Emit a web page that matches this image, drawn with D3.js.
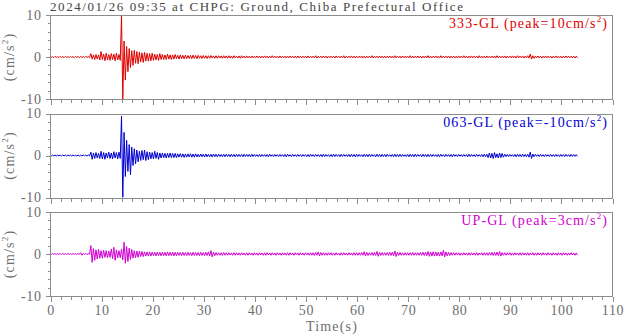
<!DOCTYPE html>
<html><head><meta charset="utf-8">
<script src="https://cdn.jsdelivr.net/npm/d3@7"></script>
<style>
body{margin:0;background:#fff;}
text{font-family:"Liberation Serif","Times New Roman",serif;}
</style></head>
<body><svg id="c" width="624" height="334"></svg>
<script>
const title = "2024/01/26 09:35 at CHPG: Ground, Chiba Prefectural Office";
const channels = ["333-GL", "063-GL", "UP-GL"];
const peaks = ["10", "-10", "3"];
const colors = ["#e00000", "#0000d0", "#d000d0"];
const xTicks = [0,10,20,30,40,50,60,70,80,90,100,110];
const yTicks = [-10, 0, 10];

const redHi = [
0.15,0.1,0.15,0.1,0.15,0.1,0.15,0.1,0.15,0.1,
0.15,0.1,0.15,0.1,0.15,0.1,0.8,0.5,0.6,0.5,
1.3,0.7,0.9,0.6,0.8,0.7,0.9,0.6,10,3.8,
2.5,2.0,1.5,1.6,1.3,1.2,1.0,1.1,0.9,0.8,
0.9,0.7,0.6,0.8,0.6,0.5,0.7,0.5,0.5,0.6,
0.4,0.5,0.4,0.45,0.35,0.4,0.45,0.35,0.4,0.3,
0.35,0.3,0.3,0.35,0.25,0.3,0.3,0.25,0.3,0.25,
0.3,0.25,0.3,0.2,0.25,0.3,0.2,0.25,0.2,0.25,
0.2,0.25,0.2,0.2,0.25,0.2,0.2,0.3,0.2,0.2,
0.25,0.2,0.2,0.2,0.25,0.2,0.2,0.25,0.2,0.2,
0.2,0.25,0.2,0.2,0.3,0.2,0.2,0.25,0.2,0.2,
0.2,0.2,0.25,0.2,0.2,0.3,0.2,0.2,0.25,0.2,
0.2,0.2,0.25,0.2,0.2,0.2,0.3,0.2,0.2,0.25,
0.2,0.2,0.2,0.25,0.2,0.3,0.2,0.2,0.25,0.2,
0.2,0.3,0.2,0.2,0.25,0.2,0.2,0.25,0.3,0.2,
0.2,0.25,0.2,0.3,0.2,0.2,0.25,0.2,0.2,0.2,
0.25,0.2,0.3,0.2,0.2,0.25,0.2,0.2,0.3,0.2,
0.2,0.25,0.2,0.2,0.25,0.3,0.2,0.2,0.25,0.2,
0.2,0.25,0.2,0.3,0.2,0.25,0.2,0.3,0.7,0.3,
0.2,0.25,0.2,0.2,0.25,0.2,0.2,0.2,0.25,0.2,
0.2,0.2,0.25,0.2,0.2,0.2,0.2];
const redLo = [
-0.1,-0.15,-0.1,-0.15,-0.1,-0.15,-0.1,-0.15,-0.1,-0.15,
-0.1,-0.15,-0.1,-0.15,-0.1,-0.15,-0.5,-0.6,-0.5,-0.7,
-0.6,-0.9,-0.7,-0.8,-0.6,-0.9,-0.7,-0.8,-10,-5.5,
-3.5,-2.5,-2.0,-1.5,-1.6,-1.2,-1.3,-1.0,-1.0,-0.9,
-0.8,-0.7,-0.8,-0.6,-0.6,-0.6,-0.5,-0.6,-0.5,-0.4,
-0.5,-0.4,-0.45,-0.4,-0.35,-0.4,-0.35,-0.4,-0.3,-0.35,
-0.3,-0.35,-0.3,-0.25,-0.3,-0.3,-0.25,-0.3,-0.25,-0.3,
-0.25,-0.3,-0.2,-0.25,-0.3,-0.2,-0.25,-0.2,-0.25,-0.2,
-0.2,-0.2,-0.25,-0.2,-0.2,-0.25,-0.2,-0.2,-0.2,-0.25,
-0.2,-0.2,-0.25,-0.2,-0.2,-0.2,-0.25,-0.2,-0.2,-0.2,
-0.25,-0.2,-0.2,-0.2,-0.25,-0.2,-0.2,-0.2,-0.25,-0.2,
-0.2,-0.25,-0.2,-0.2,-0.2,-0.25,-0.2,-0.2,-0.2,-0.25,
-0.2,-0.2,-0.2,-0.25,-0.2,-0.2,-0.25,-0.2,-0.2,-0.2,
-0.25,-0.2,-0.2,-0.2,-0.25,-0.2,-0.2,-0.25,-0.2,-0.2,
-0.2,-0.25,-0.2,-0.2,-0.2,-0.25,-0.2,-0.2,-0.25,-0.2,
-0.2,-0.2,-0.25,-0.2,-0.2,-0.2,-0.25,-0.2,-0.2,-0.25,
-0.2,-0.2,-0.2,-0.25,-0.2,-0.2,-0.2,-0.25,-0.2,-0.2,
-0.25,-0.2,-0.2,-0.2,-0.25,-0.2,-0.2,-0.2,-0.25,-0.2,
-0.2,-0.2,-0.25,-0.2,-0.2,-0.25,-0.2,-0.25,-0.5,-0.3,
-0.2,-0.2,-0.25,-0.2,-0.2,-0.2,-0.25,-0.2,-0.2,-0.2,
-0.25,-0.2,-0.2,-0.2,-0.2,-0.25,-0.2];

const blueHi = [
0.1,0.12,0.1,0.12,0.1,0.12,0.1,0.12,0.1,0.12,
0.1,0.12,0.1,0.12,0.1,0.12,0.8,0.6,0.7,0.5,
1.0,0.7,0.6,0.8,0.6,0.9,0.7,0.8,9.4,5.5,
3.6,2.6,2.0,1.6,1.3,1.0,1.2,1.3,0.9,0.8,
0.7,1.0,0.7,0.6,0.6,0.5,0.5,0.6,0.5,0.5,
0.4,0.45,0.4,0.35,0.4,0.4,0.35,0.4,0.3,0.35,
0.3,0.35,0.3,0.3,0.35,0.3,0.3,0.25,0.3,0.3,
0.25,0.3,0.25,0.3,0.25,0.25,0.3,0.25,0.25,0.3,
0.25,0.2,0.25,0.25,0.2,0.25,0.3,0.2,0.25,0.2,
0.25,0.2,0.25,0.3,0.2,0.25,0.2,0.25,0.2,0.25,
0.2,0.25,0.3,0.2,0.25,0.2,0.25,0.3,0.25,0.2,
0.25,0.3,0.25,0.2,0.3,0.25,0.2,0.25,0.3,0.25,
0.3,0.25,0.2,0.3,0.25,0.3,0.25,0.2,0.3,0.25,
0.3,0.25,0.3,0.2,0.25,0.3,0.25,0.3,0.25,0.2,
0.25,0.3,0.25,0.3,0.25,0.2,0.3,0.25,0.3,0.25,
0.25,0.2,0.25,0.3,0.2,0.25,0.2,0.25,0.3,0.2,
0.25,0.2,0.25,0.2,0.3,0.25,0.2,0.25,0.2,0.25,
0.3,0.3,0.6,0.5,0.7,0.4,0.6,0.5,0.3,0.25,
0.25,0.2,0.25,0.3,0.25,0.3,0.25,0.3,0.8,0.35,
0.25,0.2,0.25,0.2,0.25,0.2,0.25,0.2,0.25,0.2,
0.25,0.2,0.25,0.2,0.25,0.2,0.2];
const blueLo = [
-0.12,-0.1,-0.12,-0.1,-0.12,-0.1,-0.12,-0.1,-0.12,-0.1,
-0.12,-0.1,-0.12,-0.1,-0.12,-0.1,-0.9,-0.7,-0.6,-0.7,
-0.8,-0.9,-0.6,-0.7,-0.8,-0.6,-0.8,-0.7,-10,-5.0,
-3.8,-4.6,-2.4,-2.0,-1.5,-1.2,-1.0,-1.2,-1.0,-0.8,
-0.8,-0.7,-0.9,-0.6,-0.5,-0.6,-0.5,-0.5,-0.5,-0.5,
-0.4,-0.4,-0.45,-0.4,-0.35,-0.4,-0.4,-0.35,-0.35,-0.3,
-0.35,-0.3,-0.3,-0.35,-0.3,-0.3,-0.25,-0.3,-0.3,-0.25,
-0.3,-0.25,-0.3,-0.25,-0.25,-0.3,-0.25,-0.25,-0.3,-0.25,
-0.2,-0.25,-0.25,-0.2,-0.25,-0.3,-0.2,-0.25,-0.2,-0.25,
-0.2,-0.25,-0.3,-0.2,-0.25,-0.2,-0.25,-0.2,-0.25,-0.2,
-0.25,-0.3,-0.2,-0.25,-0.2,-0.25,-0.3,-0.25,-0.2,-0.25,
-0.3,-0.25,-0.2,-0.3,-0.25,-0.2,-0.25,-0.3,-0.25,-0.3,
-0.25,-0.2,-0.3,-0.25,-0.3,-0.25,-0.2,-0.3,-0.25,-0.3,
-0.25,-0.3,-0.2,-0.25,-0.3,-0.25,-0.3,-0.25,-0.2,-0.25,
-0.3,-0.25,-0.3,-0.25,-0.2,-0.3,-0.25,-0.3,-0.25,-0.25,
-0.2,-0.25,-0.3,-0.2,-0.25,-0.2,-0.25,-0.3,-0.2,-0.25,
-0.2,-0.25,-0.2,-0.3,-0.25,-0.2,-0.25,-0.2,-0.25,-0.3,
-0.3,-0.5,-0.6,-0.7,-0.5,-0.6,-0.5,-0.4,-0.25,-0.25,
-0.2,-0.25,-0.3,-0.25,-0.3,-0.25,-0.3,-0.4,-0.7,-0.3,
-0.2,-0.25,-0.2,-0.25,-0.2,-0.25,-0.2,-0.25,-0.2,-0.25,
-0.2,-0.25,-0.2,-0.25,-0.2,-0.2,-0.2];

const magHi = [
0.1,0.12,0.1,0.12,0.1,0.12,0.1,0.12,0.1,0.12,
0.1,0.12,0.3,0.12,0.1,0.12,2.0,1.3,1.0,1.1,
0.8,0.9,0.8,0.7,1.2,1.6,1.0,0.8,1.2,2.8,
1.8,1.4,1.1,0.8,0.7,0.7,0.6,0.5,0.5,0.5,
0.45,0.4,0.45,0.4,0.45,0.4,0.5,0.4,0.45,0.4,
0.4,0.35,0.4,0.35,0.4,0.35,0.4,0.35,0.35,0.4,
0.35,0.4,0.5,0.8,0.45,0.35,0.3,0.3,0.35,0.3,
0.3,0.25,0.3,0.3,0.25,0.3,0.25,0.3,0.3,0.25,
0.3,0.25,0.3,0.25,0.3,0.3,0.25,0.3,0.25,0.3,
0.25,0.3,0.25,0.3,0.3,0.25,0.3,0.25,0.3,0.25,
0.3,0.25,0.3,0.3,0.35,0.5,0.35,0.3,0.25,0.3,
0.3,0.25,0.3,0.25,0.3,0.3,0.25,0.3,0.25,0.3,
0.3,0.3,0.35,0.55,0.4,0.3,0.35,0.4,0.6,0.4,
0.35,0.3,0.35,0.4,0.45,0.7,0.4,0.35,0.3,0.3,
0.3,0.3,0.35,0.3,0.3,0.35,0.4,0.45,0.6,0.5,
0.55,0.5,0.45,0.5,0.9,0.5,0.4,0.35,0.3,0.3,
0.3,0.25,0.3,0.25,0.3,0.3,0.25,0.3,0.25,0.3,
0.3,0.3,0.35,0.4,0.4,0.45,0.6,0.35,0.3,0.3,
0.3,0.25,0.3,0.25,0.3,0.3,0.25,0.3,0.25,0.3,
0.25,0.3,0.25,0.3,0.25,0.3,0.25,0.3,0.25,0.3,
0.25,0.3,0.25,0.25,0.3,0.25,0.25];
const magLo = [
-0.12,-0.1,-0.12,-0.1,-0.12,-0.1,-0.12,-0.1,-0.12,-0.1,
-0.12,-0.1,-0.3,-0.1,-0.12,-0.1,-2.0,-1.5,-1.2,-1.0,
-1.0,-0.8,-0.9,-0.8,-1.1,-1.5,-0.9,-0.9,-1.4,-2.2,
-1.8,-1.3,-1.0,-0.9,-0.8,-0.6,-0.6,-0.5,-0.5,-0.5,
-0.4,-0.45,-0.4,-0.45,-0.4,-0.45,-0.4,-0.4,-0.45,-0.4,
-0.35,-0.4,-0.35,-0.4,-0.35,-0.4,-0.35,-0.35,-0.4,-0.35,
-0.4,-0.35,-0.45,-0.7,-0.4,-0.3,-0.3,-0.35,-0.3,-0.3,
-0.25,-0.3,-0.3,-0.25,-0.3,-0.25,-0.3,-0.3,-0.25,-0.3,
-0.25,-0.3,-0.25,-0.3,-0.3,-0.25,-0.3,-0.25,-0.3,-0.25,
-0.3,-0.25,-0.3,-0.3,-0.25,-0.3,-0.25,-0.3,-0.25,-0.3,
-0.25,-0.3,-0.3,-0.35,-0.3,-0.45,-0.3,-0.3,-0.3,-0.25,
-0.3,-0.3,-0.25,-0.3,-0.3,-0.25,-0.3,-0.25,-0.3,-0.3,
-0.3,-0.3,-0.3,-0.5,-0.35,-0.3,-0.35,-0.35,-0.55,-0.35,
-0.3,-0.3,-0.35,-0.35,-0.4,-0.6,-0.35,-0.3,-0.3,-0.3,
-0.3,-0.3,-0.3,-0.3,-0.3,-0.3,-0.35,-0.4,-0.55,-0.5,
-0.5,-0.45,-0.5,-0.45,-0.7,-0.45,-0.35,-0.3,-0.3,-0.25,
-0.3,-0.3,-0.25,-0.3,-0.3,-0.25,-0.3,-0.3,-0.25,-0.3,
-0.3,-0.3,-0.3,-0.35,-0.35,-0.4,-0.5,-0.3,-0.3,-0.25,
-0.3,-0.3,-0.25,-0.3,-0.3,-0.25,-0.3,-0.3,-0.25,-0.3,
-0.3,-0.25,-0.3,-0.25,-0.3,-0.25,-0.3,-0.25,-0.3,-0.25,
-0.3,-0.25,-0.3,-0.25,-0.25,-0.3,-0.25];

const series = [[redHi, redLo], [blueHi, blueLo], [magHi, magLo]];
const sampleStep = 0.5;

// ---- layout ----
const svg = d3.select("#c");
const L = 50, R = 612;
const panelTops = [15, 113.5, 212];
const panelH = 84;
const axisGray = "#8c8c8c";
const labelGray = "#6e6e6e";
const FS = 13;

const x = d3.scaleLinear().domain([0, 110]).range([L, R]);

svg.append("text").attr("x", L).attr("y", 11)
  .attr("font-size", FS).attr("fill", "#444")
  .attr("textLength", 413).attr("lengthAdjust", "spacing")
  .text(title);

series.forEach(([hi, lo], k) => {
  const top = panelTops[k];
  const y = d3.scaleLinear().domain([-10, 10]).range([top + panelH, top]);
  const g = svg.append("g");

  // waveform: upper and lower envelope values visited in turn
  const pts = [];
  hi.forEach((v, i) => {
    const t = i * sampleStep;
    pts.push([t, v]);
    pts.push([t + sampleStep / 2, lo[i]]);
  });
  const clipId = "clip" + k;
  svg.append("clipPath").attr("id", clipId).append("rect")
    .attr("x", L).attr("y", top).attr("width", R - L).attr("height", panelH);
  g.append("path").datum(pts)
    .attr("clip-path", `url(#${clipId})`)
    .attr("fill", "none").attr("stroke", colors[k]).attr("stroke-width", 1)
    .attr("d", d3.line().x(d => x(d[0])).y(d => y(d[1])));

  // frame
  g.append("rect").attr("x", L + 0.5).attr("y", Math.round(top) + 0.5)
    .attr("width", R - L).attr("height", panelH)
    .attr("fill", "none").attr("stroke", axisGray).attr("stroke-width", 1)
    .attr("shape-rendering", "crispEdges");

  // x axis ticks
  const xb = Math.round(top + panelH) + 0.5;
  const xMinor = d3.axisBottom(x).tickValues(d3.range(0, 111, 2)).tickSize(3).tickFormat("");
  const xMajor = d3.axisBottom(x).tickValues(xTicks).tickSize(5).tickPadding(4)
    .tickFormat(k === 2 ? d => d : "");
  [xMinor, xMajor].forEach(ax => {
    const a = g.append("g").attr("transform", `translate(0.5,${xb})`).call(ax);
    a.select(".domain").remove();
    a.selectAll("line").attr("stroke", axisGray).attr("shape-rendering", "crispEdges");
    a.selectAll("text").attr("fill", labelGray).attr("font-size", FS + 1)
      .attr("letter-spacing", "0.6px")
      .attr("font-family", "Liberation Serif, serif");
  });

  // y axis ticks
  const yMinor = d3.axisLeft(y).tickValues(d3.range(-10, 11, 2)).tickSize(3).tickFormat("");
  const yMajor = d3.axisLeft(y).tickValues(yTicks).tickSize(5).tickPadding(4).tickFormat(d => String(d));
  [yMinor, yMajor].forEach(ax => {
    const a = g.append("g").attr("transform", `translate(${L + 0.5},0)`).call(ax);
    a.select(".domain").remove();
    a.selectAll("line").attr("stroke", axisGray).attr("shape-rendering", "crispEdges");
    a.selectAll("text").attr("fill", labelGray).attr("font-size", FS + 1)
      .attr("letter-spacing", "0.6px")
      .attr("font-family", "Liberation Serif, serif");
  });

  // y label
  const yl = g.append("text")
    .attr("transform", `translate(14,${top + panelH / 2}) rotate(-90)`)
    .attr("text-anchor", "middle").attr("font-size", FS + 1).attr("fill", labelGray)
    .attr("letter-spacing", "1.2px");
  yl.append("tspan").text("(cm/s");
  yl.append("tspan").attr("dy", -6).attr("font-size", 9).text("2");
  yl.append("tspan").attr("dy", 6).text(")");

  // channel label
  const cl = g.append("text").attr("x", R - 4).attr("y", top + 13)
    .attr("text-anchor", "end").attr("font-size", FS + 1).attr("fill", colors[k])
    .attr("letter-spacing", "1.1px");
  cl.append("tspan").text(`${channels[k]} (peak=${peaks[k]}cm/s`);
  cl.append("tspan").attr("dy", -6).attr("font-size", 9).text("2");
  cl.append("tspan").attr("dy", 6).text(")");
});

svg.append("text").attr("x", 332).attr("y", 331)
  .attr("text-anchor", "middle").attr("font-size", FS + 1).attr("fill", labelGray)
  .attr("letter-spacing", "1.2px")
  .text("Time(s)");
</script></body></html>
